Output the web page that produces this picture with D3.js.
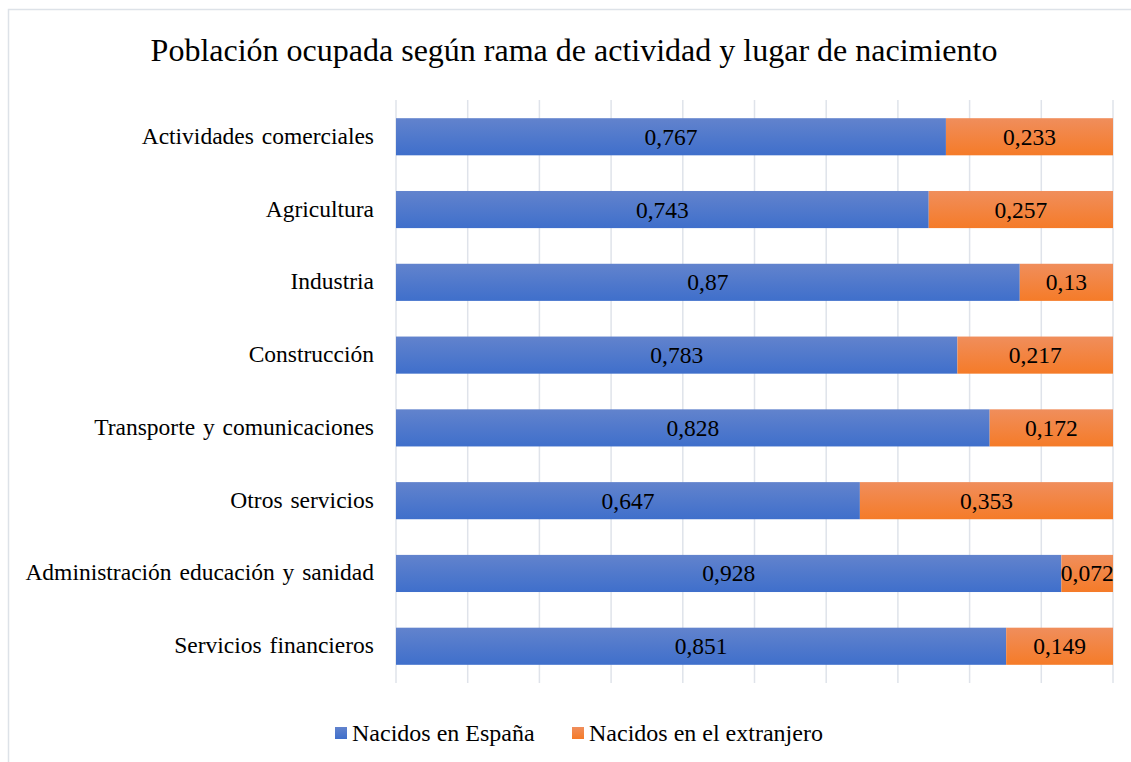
<!DOCTYPE html>
<html>
<head>
<meta charset="utf-8">
<script src="https://cdn.jsdelivr.net/npm/d3@7"></script>
<style>
  body { margin: 0; background: #fff; }
  text { font-family: "Liberation Serif", "Times New Roman", serif; fill: #000; }
</style>
</head>
<body>
<script>
var categories = ["Actividades comerciales", "Agricultura", "Industria", "Construcción",
  "Transporte y comunicaciones", "Otros servicios", "Administración educación y sanidad", "Servicios financieros"];
var espana = [0.767, 0.743, 0.87, 0.783, 0.828, 0.647, 0.928, 0.851];
var extranjero = [0.233, 0.257, 0.13, 0.217, 0.172, 0.353, 0.072, 0.149];
var seriesNames = ["Nacidos en España", "Nacidos en el extranjero"];
var xTicks = d3.range(0, 11).map(function(i){ return i / 10; });

var W = 1131, H = 762;
var svg = d3.select("body").append("svg").attr("width", W).attr("height", H);

var defs = svg.append("defs");
function grad(id, top, bottom) {
  var g = defs.append("linearGradient").attr("id", id)
    .attr("x1", 0).attr("y1", 0).attr("x2", 0).attr("y2", 1);
  g.append("stop").attr("offset", "0%").attr("stop-color", top);
  g.append("stop").attr("offset", "100%").attr("stop-color", bottom);
}
grad("gBlue", "#6283cd", "#3f6fcb");
grad("gOrange", "#f08e5c", "#f57b28");

// chart frame
svg.append("rect").attr("x", 8.5).attr("y", 9.5).attr("width", W).attr("height", H)
  .attr("fill", "none").attr("stroke", "#dde2e8").attr("stroke-width", 1.5);

svg.append("text").attr("x", 574).attr("y", 61).attr("text-anchor", "middle")
  .style("font-size", "32px").text("Población ocupada según rama de actividad y lugar de nacimiento");

var x = d3.scaleLinear().domain([0, 1]).range([396, 1113]);
var y = d3.scaleBand().domain(categories).range([100, 683]).paddingInner(0.49).paddingOuter(0.25);

// gridlines
svg.append("g").selectAll("line").data(xTicks).enter().append("line")
  .attr("x1", function(d){ return x(d); }).attr("x2", function(d){ return x(d); })
  .attr("y1", 100).attr("y2", 683)
  .attr("stroke", "#dfe3ea").attr("stroke-width", 1.5);

var rows = categories.map(function(c, i){ return {cat: c, a: espana[i], b: extranjero[i]}; });

var g = svg.append("g");
g.selectAll("rect.a").data(rows).enter().append("rect").attr("class", "a")
  .attr("x", x(0)).attr("y", function(d){ return y(d.cat); })
  .attr("width", function(d){ return x(d.a) - x(0); }).attr("height", y.bandwidth())
  .attr("fill", "url(#gBlue)");
g.selectAll("rect.b").data(rows).enter().append("rect").attr("class", "b")
  .attr("x", function(d){ return x(d.a); }).attr("y", function(d){ return y(d.cat); })
  .attr("width", function(d){ return x(d.a + d.b) - x(d.a); }).attr("height", y.bandwidth())
  .attr("fill", "url(#gOrange)");

function fmt(v) { return String(v).replace(".", ","); }

g.selectAll("text.la").data(rows).enter().append("text").attr("class", "la")
  .attr("x", function(d){ return (x(0) + x(d.a)) / 2; })
  .attr("y", function(d){ return y(d.cat) + y.bandwidth() / 2 + 8; })
  .attr("text-anchor", "middle").style("font-size", "23.5px")
  .text(function(d){ return fmt(d.a); });
g.selectAll("text.lb").data(rows).enter().append("text").attr("class", "lb")
  .attr("x", function(d){ return (x(d.a) + x(d.a + d.b)) / 2; })
  .attr("y", function(d){ return y(d.cat) + y.bandwidth() / 2 + 8; })
  .attr("text-anchor", "middle").style("font-size", "23.5px")
  .text(function(d){ return fmt(d.b); });

// category labels
g.selectAll("text.cat").data(categories).enter().append("text").attr("class", "cat")
  .attr("x", 374).attr("y", function(d){ return y(d) + y.bandwidth() / 2 + 7; })
  .attr("text-anchor", "end").style("font-size", "23.5px").style("word-spacing", "2px")
  .text(function(d){ return d; });

// legend
var leg = svg.append("g");
var legX = [335, 572];
seriesNames.forEach(function(n, i){
  leg.append("rect").attr("x", legX[i]).attr("y", 727).attr("width", 12).attr("height", 12)
    .attr("fill", i === 0 ? "url(#gBlue)" : "url(#gOrange)");
  leg.append("text").attr("x", legX[i] + 17).attr("y", 741).style("font-size", "24px").text(n);
});
</script>
</body>
</html>
